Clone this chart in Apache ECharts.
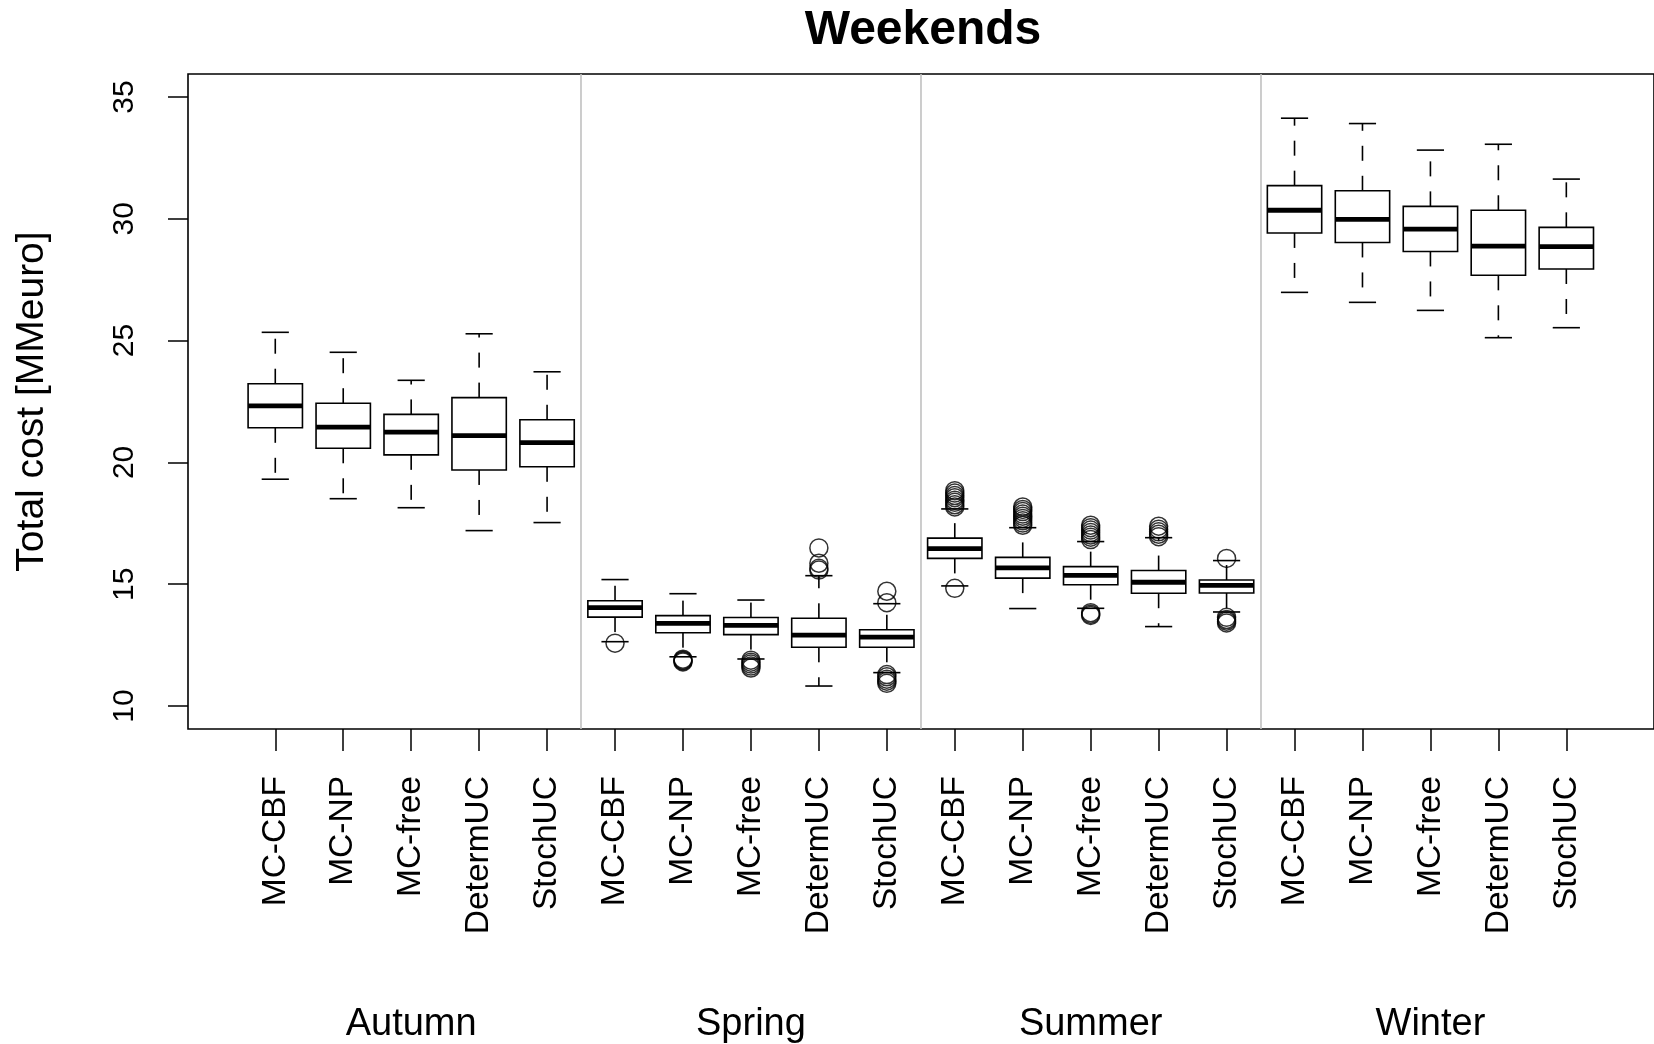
<!DOCTYPE html>
<html>
<head>
<meta charset="utf-8">
<script src="https://cdn.jsdelivr.net/npm/echarts@6/dist/echarts.min.js"></script>
<style>
html,body{margin:0;padding:0;background:#fff;}
#chart{width:1654px;height:1044px;}
</style>
</head>
<body>
<div id="chart"></div>
<script>
// ---------- data ----------
const seasons = ['Autumn', 'Spring', 'Summer', 'Winter'];
const methods = ['MC-CBF', 'MC-NP', 'MC-free', 'DetermUC', 'StochUC'];
const yTicks = [10, 15, 20, 25, 30, 35];

// box stats per method: [lower whisker, Q1, median, Q3, upper whisker]
const autumnStats = [
  [19.31, 21.42, 22.32, 23.23, 25.34],
  [18.51, 20.58, 21.45, 22.43, 24.52],
  [18.14, 20.31, 21.24, 21.97, 23.37],
  [17.20, 19.69, 21.10, 22.66, 25.28],
  [17.53, 19.82, 20.81, 21.75, 23.72]
];
const springStats = [
  [12.64, 13.65, 14.04, 14.32, 15.19],
  [12.02, 13.01, 13.39, 13.71, 14.61],
  [11.93, 12.93, 13.31, 13.63, 14.35],
  [10.82, 12.41, 12.91, 13.60, 15.35],
  [11.37, 12.41, 12.83, 13.13, 14.20]
];
const summerStats = [
  [14.93, 16.06, 16.46, 16.89, 18.09],
  [14.00, 15.25, 15.67, 16.10, 17.32],
  [14.01, 14.98, 15.36, 15.72, 16.75],
  [13.26, 14.63, 15.08, 15.56, 16.91],
  [13.86, 14.64, 14.95, 15.17, 15.97]
];
const winterStats = [
  [26.98, 29.42, 30.35, 31.36, 34.13],
  [26.57, 29.03, 29.98, 31.15, 33.91],
  [26.24, 28.66, 29.58, 30.51, 32.82],
  [25.12, 27.68, 28.88, 30.35, 33.06],
  [25.53, 27.94, 28.86, 29.65, 31.63]
];

// outliers per method
const autumnOutliers = [[], [], [], [], []];
const springOutliers = [
  [12.58],
  [11.92, 11.88, 11.85, 11.81],
  [11.88, 11.80, 11.72, 11.64, 11.56],
  [16.49, 15.86, 15.65, 15.58],
  [14.71, 14.24, 11.29, 11.20, 11.10, 11.02, 10.93]
];
const summerOutliers = [
  [18.84, 18.74, 18.64, 18.55, 18.45, 18.36, 18.26, 18.17, 14.83],
  [18.17, 18.07, 17.98, 17.88, 17.79, 17.70, 17.60, 17.51, 17.42],
  [17.42, 17.32, 17.22, 17.12, 17.02, 16.93, 16.83, 13.83, 13.77, 13.72],
  [17.38, 17.26, 17.15, 17.05, 16.95],
  [16.06, 13.64, 13.55, 13.48, 13.41]
];
const winterOutliers = [[], [], [], [], []];

// ---------- build ----------
const allStats = [autumnStats, springStats, summerStats, winterStats];
const allOutliers = [autumnOutliers, springOutliers, summerOutliers, winterOutliers];
const categories = [];
const boxData = [];
const outlierData = [];
seasons.forEach(function (s, si) {
  methods.forEach(function (m, mi) {
    const idx = categories.length;
    categories.push(s + '|' + m);
    boxData.push([idx].concat(allStats[si][mi]));
    allOutliers[si][mi].forEach(function (v) { outlierData.push([idx, v]); });
  });
});

const FONT = 'Liberation Sans';
const chart = echarts.init(document.getElementById('chart'), null, {renderer: 'canvas'});

function renderBox(params, api) {
  const x = api.value(0);
  const lo = api.coord([x, api.value(1)]);
  const q1 = api.coord([x, api.value(2)]);
  const md = api.coord([x, api.value(3)]);
  const q3 = api.coord([x, api.value(4)]);
  const hi = api.coord([x, api.value(5)]);
  const band = api.size([1, 0])[0];
  const bw = band * 0.8;
  const cw = band * 0.4;
  const cx = md[0];
  const ls = {stroke: '#000', lineWidth: 1.6};
  return {
    type: 'group',
    children: [
      {type: 'line', shape: {x1: cx, y1: q3[1], x2: cx, y2: hi[1]}, style: {stroke: '#000', lineWidth: 1.6, lineDash: [15, 15]}},
      {type: 'line', shape: {x1: cx, y1: q1[1], x2: cx, y2: lo[1]}, style: {stroke: '#000', lineWidth: 1.6, lineDash: [15, 15]}},
      {type: 'line', shape: {x1: cx - cw / 2, y1: hi[1], x2: cx + cw / 2, y2: hi[1]}, style: ls},
      {type: 'line', shape: {x1: cx - cw / 2, y1: lo[1], x2: cx + cw / 2, y2: lo[1]}, style: ls},
      {type: 'rect', shape: {x: cx - bw / 2, y: q3[1], width: bw, height: q1[1] - q3[1]}, style: {fill: '#fff', stroke: '#000', lineWidth: 1.6}},
      {type: 'line', shape: {x1: cx - bw / 2, y1: md[1], x2: cx + bw / 2, y2: md[1]}, style: {stroke: '#000', lineWidth: 4.8}}
    ]
  };
}

const option = {
  backgroundColor: '#fff',
  animation: false,
  textStyle: {fontFamily: FONT, color: '#000'},
  title: {
    text: 'Weekends',
    left: 918,
    top: 2,
    textAlign: 'center',
    textStyle: {fontFamily: FONT, fontSize: 48, fontWeight: 'bold', color: '#000'}
  },
  grid: [
    {left: 241.3, top: 97, width: 1359, height: 609, show: false},
    {left: 188, top: 74, width: 1520, height: 655, show: true, borderColor: '#000', borderWidth: 1.6, backgroundColor: 'transparent'},
    {left: 241.3, top: 74, width: 1359, height: 655, show: false}
  ],
  xAxis: [
    {
      gridIndex: 0, type: 'category', data: categories, position: 'bottom', offset: 23,
      axisLine: {show: false},
      axisTick: {show: true, alignWithLabel: true, length: 22, lineStyle: {color: '#000', width: 1.5}},
      axisLabel: {
        interval: 0, rotate: 90, margin: 47, fontSize: 33.5, color: '#000', fontFamily: FONT,
        formatter: function (v, i) { return methods[i % methods.length]; }
      },
      splitLine: {show: false}
    },
    {gridIndex: 1, type: 'value', min: 0, max: 1, show: false},
    {
      gridIndex: 2, type: 'category', data: seasons, position: 'bottom',
      axisLine: {show: false}, axisTick: {show: false},
      axisLabel: {interval: 0, margin: 277, fontSize: 38, color: '#000', fontFamily: FONT},
      splitLine: {show: true, showMinLine: false, showMaxLine: false, lineStyle: {color: '#c0c0c0', width: 1.6}}
    }
  ],
  yAxis: [
    {
      gridIndex: 0, type: 'value', min: 10, max: 35, interval: 5, offset: 53.3,
      axisLine: {show: false},
      axisTick: {show: true, length: 20, lineStyle: {color: '#000', width: 1.5}},
      axisLabel: {rotate: 90, margin: 48, fontSize: 30, color: '#000', fontFamily: FONT,
        formatter: function (v) { return yTicks.indexOf(v) >= 0 ? String(v) : ''; }},
      splitLine: {show: false},
      name: 'Total cost [MMeuro]', nameLocation: 'middle', nameGap: 136,
      nameTextStyle: {fontSize: 39, color: '#000', fontFamily: FONT}
    },
    {gridIndex: 1, type: 'value', min: 0, max: 1, show: false},
    {gridIndex: 2, type: 'value', min: 0, max: 1, show: false}
  ],
  series: [
    {
      type: 'custom', xAxisIndex: 0, yAxisIndex: 0,
      renderItem: renderBox,
      encode: {x: 0, y: [1, 2, 3, 4, 5]},
      data: boxData, z: 2, clip: false
    },
    {
      type: 'scatter', xAxisIndex: 0, yAxisIndex: 0,
      data: outlierData, symbol: 'circle', symbolSize: 18,
      itemStyle: {color: 'rgba(0,0,0,0)', borderColor: '#000', borderWidth: 1.5},
      z: 3, silent: true
    }
  ]
};
chart.setOption(option);
</script>
</body>
</html>
